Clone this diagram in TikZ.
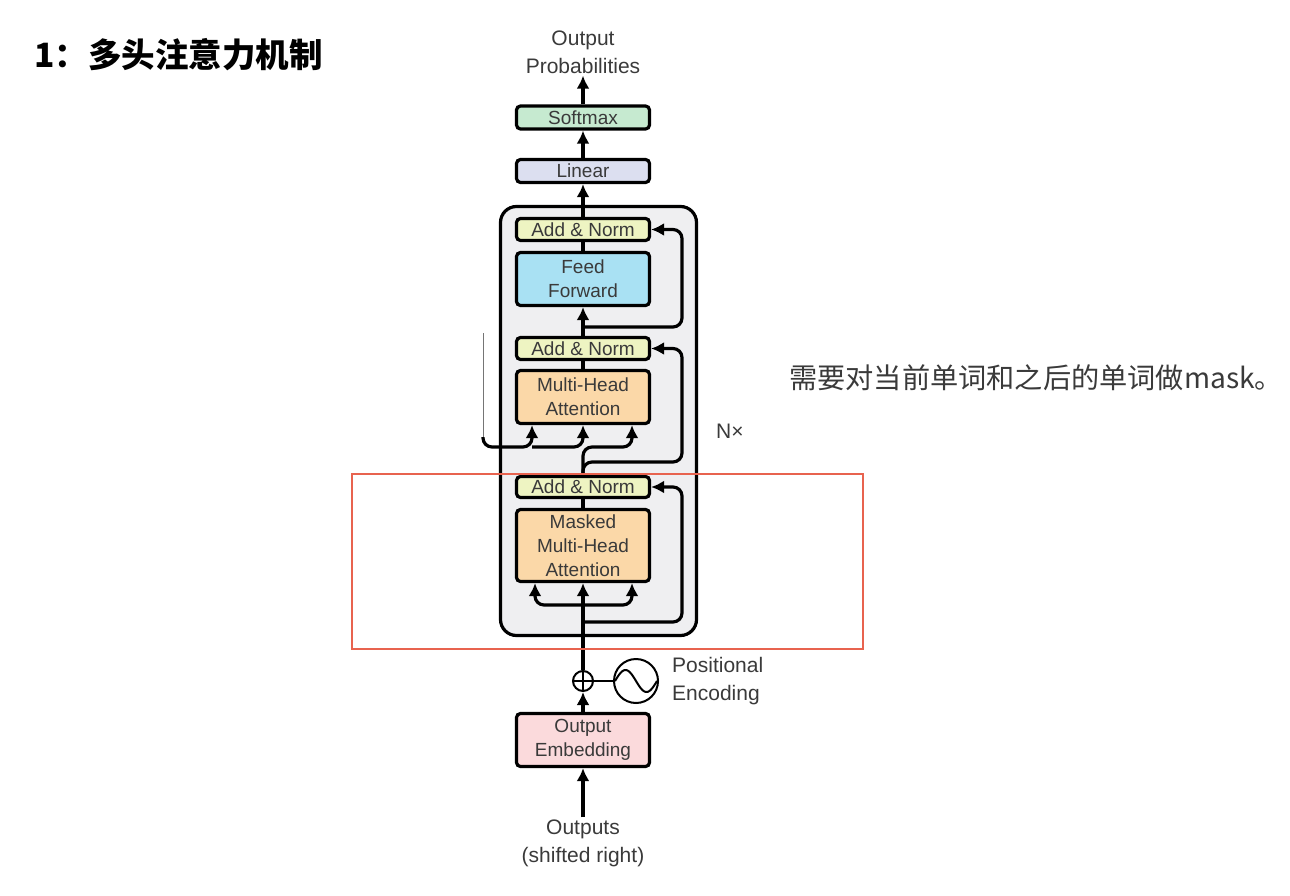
\documentclass[tikz,border=0pt]{standalone}
\usepackage{fontspec}
\setmainfont{Liberation Sans}
\newfontfamily\cjk{Noto Sans CJK SC}
\usepackage{xcolor}
\definecolor{TextGrey}{HTML}{3A3A3A}
\definecolor{StackGrey}{HTML}{EFEFF1}
\definecolor{SoftGreen}{HTML}{C6EAD0}
\definecolor{Lavender}{HTML}{DCDFF0}
\definecolor{NormYellow}{HTML}{EEF4C2}
\definecolor{FeedBlue}{HTML}{A9E1F3}
\definecolor{AttnOrange}{HTML}{FBD8A8}
\definecolor{EmbPink}{HTML}{FBDADC}
\definecolor{MarkRed}{HTML}{E8634F}
\usetikzlibrary{arrows.meta, positioning, shapes.geometric}

\begin{document}
\begin{tikzpicture}[x=1pt, y=-1pt,
    block/.style={rectangle, rounded corners=4pt, draw=black, line width=3.2pt, minimum width=133pt, inner sep=0pt, align=center, text=TextGrey, font=\fontsize{19}{24}\selectfont},
    textlbl/.style={align=center, text=TextGrey, inner sep=2pt, font=\fontsize{21}{28}\selectfont},
    arrow/.style={-{Latex[length=13pt,width=13pt]}, line width=3.2pt},
    wire/.style={line width=3.2pt}
]
\useasboundingbox (0,0) rectangle (1290,896);

% Title and note
\node[anchor=west, font=\cjk\bfseries\fontsize{33.5}{40}\selectfont] (title) at (31,55) {1：多头注意力机制};
\node[anchor=west, text=TextGrey, font=\cjk\fontsize{28.2}{34}\selectfont, inner sep=1pt] (note) at (788,378) {需要对当前单词和之后的单词做mask。};

% Decoder stack
\node[draw, line width=3.2pt, rounded corners=16pt, fill=StackGrey, minimum width=196pt, minimum height=429pt] (nbox) at (598.5,421) {};
\node[textlbl, anchor=west] (nx) at (714,431) {N×};

\node[textlbl] (probs) at (583,52) {Output\\Probabilities};
\node[block, fill=SoftGreen, minimum height=23pt] (softmax) at (583,117.5) {Softmax};
\node[block, fill=Lavender, minimum height=23pt] (linear) at (583,171) {Linear};
\node[block, fill=NormYellow, minimum height=22pt] (an1) at (583,229.5) {Add \& Norm};
\node[block, fill=FeedBlue, minimum height=53pt] (ff) at (583,279) {Feed\\Forward};
\node[block, fill=NormYellow, minimum height=22pt] (an2) at (583,348.5) {Add \& Norm};
\node[block, fill=AttnOrange, minimum height=53pt] (mha) at (583,397) {Multi-Head\\Attention};
\node[block, fill=NormYellow, minimum height=21pt] (an3) at (583,487) {Add \& Norm};
\node[block, fill=AttnOrange, minimum height=72pt] (mmha) at (583,545.5) {Masked\\Multi-Head\\Attention};

% Embedding
\node[circle, draw, line width=2pt, fill=white, minimum size=20pt, inner sep=0pt] (plus) at (583,681) {};
\node[circle, draw, line width=2pt, minimum size=44pt, inner sep=0pt] (pe) at (636,681) {};
\node[textlbl, anchor=west, align=left] (pelbl) at (670,681) {Positional\\Encoding};
\node[block, fill=EmbPink, minimum height=53pt] (emb) at (583,740) {Output\\Embedding};
\node[textlbl] (outs) at (583,843) {Outputs\\(shifted right)};

\coordinate (res1) at (583,327);
\coordinate (split) at (583,605);
\coordinate (res3) at (583,622);
\coordinate (enc) at (483,333);

% Main flow
\draw[arrow] (softmax) -- (probs);
\draw[arrow] (linear) -- (softmax);
\draw[arrow] (an1) -- (linear);
\draw[wire] (ff) -- (an1);
\draw[arrow] (an2) -- (ff);
\draw[wire] (mha) -- (an2);
\draw[wire] (mmha) -- (an3);
\draw[arrow] (plus) -- (mmha);
\draw[arrow] (emb) -- (plus);
\draw[arrow] (outs) -- (emb);
\draw[wire, line width=2.2pt] (plus) -- (pe);
\draw[line width=1.8pt] (plus.north) -- (plus.south) (plus.west) -- (plus.east);
\draw[line width=2pt, domain=-21:21, samples=60] plot ({636+\x}, {681-11*sin((\x+21)*180/21)});

% Residual connections
\draw[arrow, rounded corners=9pt] (res1) -- (682,327) |- (an1.east);
\draw[arrow, rounded corners=9pt] (an3.north) |- (682,462) |- (an2.east);
\draw[arrow, rounded corners=9pt] (res3) -- (682,622) |- (an3.east);

% Attention inputs
\draw[arrow, rounded corners=9pt] (an3.north) |- (632,447) -- ([xshift=49pt]mha.south);
\draw[line width=0.9pt, TextGrey!70] (enc) -- (483,438);
\draw[arrow, rounded corners=9pt] (483,437) |- (532,447) -- ([xshift=-51pt]mha.south);
\draw[arrow, rounded corners=9pt] (532,447) -| (mha.south);
\draw[arrow, rounded corners=9pt] (split) -| ([xshift=-48pt]mmha.south);
\draw[arrow, rounded corners=9pt] (split) -| ([xshift=49pt]mmha.south);

% Highlight
\draw[MarkRed, line width=2pt] (352,474) rectangle (863,649);
\end{tikzpicture}
\end{document}
